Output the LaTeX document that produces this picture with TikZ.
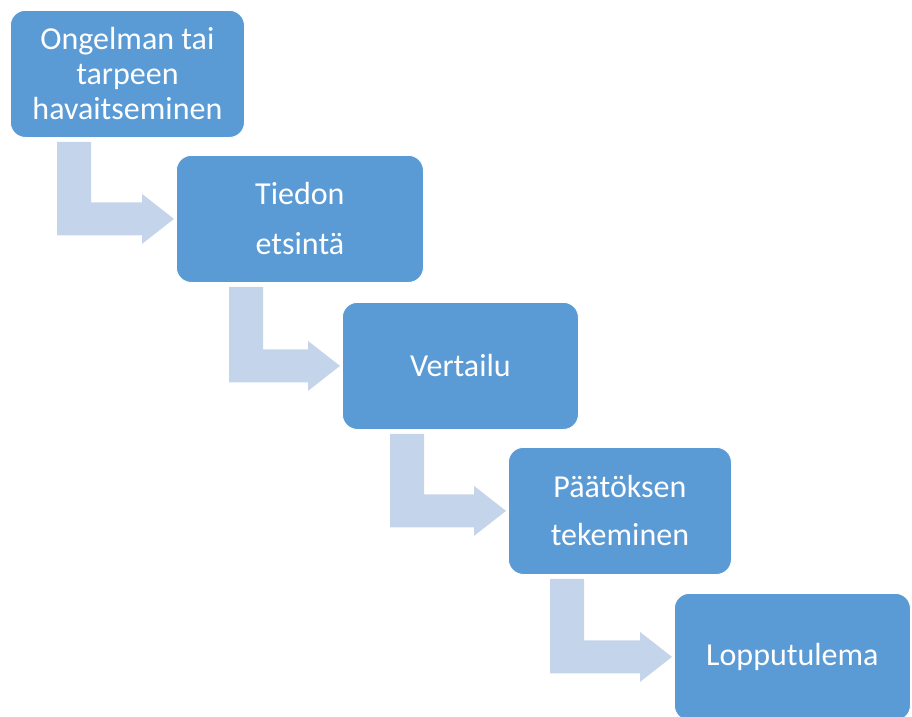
\documentclass[tikz,border=0pt]{standalone}
\usepackage{fontspec}
\setmainfont{Carlito}
\usetikzlibrary{calc}

\definecolor{laatikko}{HTML}{5B9BD5}
\definecolor{nuolivari}{HTML}{C4D4EA}

\tikzset{
  vaihe/.style={draw=white, line width=0.8pt, fill=laatikko, rounded corners=15pt,
    text=white, align=center, inner sep=0pt, minimum height=127pt, anchor=north west,
    font=\fontsize{32}{35}\selectfont},
  nuoli/.style={fill=nuolivari}
}

\begin{document}
\begin{tikzpicture}[x=1pt,y=-1pt]
  \useasboundingbox (0,0) rectangle (912,716);

  % Vaiheet
  \node[vaihe, minimum width=234pt] (v1) at (10,10) {Ongelman tai\\tarpeen\\havaitseminen};
  \node[vaihe, minimum width=247pt, font=\fontsize{32}{50}\selectfont] (v2) at (176,155) {Tiedon\\etsintä};
  \node[vaihe, minimum width=236pt] (v3) at (342,302) {Vertailu};
  \node[vaihe, minimum width=223pt, font=\fontsize{32}{48}\selectfont] (v4) at (508,447) {Päätöksen\\tekeminen};
  \node[vaihe, minimum width=236pt] (v5) at (674,593) {Lopputulema};

  % Taitetut nuolet
  \foreach \a/\b/\dx in {v1/v2/47, v2/v3/53, v3/v4/48, v4/v5/42} {
    \coordinate (s) at ($(\a.south west)+(\dx,4)$);
    \fill[nuoli] (s) -- ++(34,0) |- ($(\b.west)+(-34,-16.5)$) -- ++(0,-8.5)
      -- ($(\b.west)+(-2,0)$) -- ++(-32,25) -- ++(0,-8.5) -| (s) -- cycle;
  }
\end{tikzpicture}
\end{document}
